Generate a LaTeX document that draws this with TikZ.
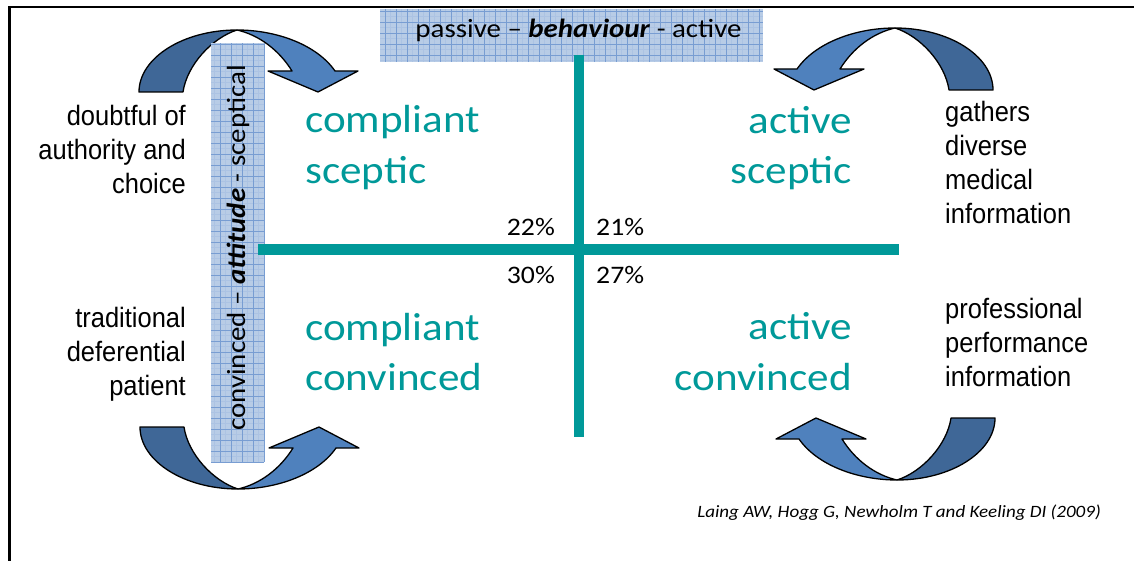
\documentclass[tikz,border=0pt]{standalone}
\usepackage{fontspec}
\newfontfamily\calib[FakeStretch=1.1]{Carlito}
\newfontfamily\arialn[FakeStretch=0.91]{Liberation Sans}
\definecolor{tealc}{RGB}{0,153,153}
\definecolor{lightband}{RGB}{79,129,189}
\definecolor{darkband}{RGB}{63,103,151}
\definecolor{gridfill}{RGB}{184,204,230}
\definecolor{gridline}{RGB}{120,157,210}
\definecolor{gridminor}{RGB}{172,195,227}
\tikzset{
  quad/.style={font=\calib\fontsize{39.2}{47}\selectfont, text=tealc, inner sep=0pt},
  side/.style={font=\arialn\fontsize{28}{34}\selectfont, inner sep=0pt},
  pct/.style={font=\calib\fontsize{25.2}{30}\selectfont, inner sep=0pt},
  axislabel/.style={font=\calib\fontsize{26.3}{31}\selectfont, inner sep=0pt},
  cite/.style={font=\calib\itshape\fontsize{17.3}{21}\selectfont, inner sep=0pt},
  axisline/.style={draw=tealc, line width=10pt},
  band/.style={draw=black, line width=1.3pt, line join=round},
  gridbox/.style={fill=gridfill},
  minorgrid/.style={draw=gridminor, line width=0.25pt, step=5.5pt},
  majorgrid/.style={draw=gridline, line width=0.55pt, step=11pt},
}
\newcommand\bentarrow{%
  \filldraw[band, fill=darkband] (-98,62) -- (-54,62)
     .. controls (-50,35) and (-25,8) .. (0,0)
     .. controls (-54,0) and (-98,28) .. (-98,62) -- cycle;
  \filldraw[band, fill=lightband] (0,0)
     .. controls (40,0) and (80,15) .. (98,41) -- (121,41) -- (81,62)
     -- (31,41) -- (55,41)
     .. controls (42,20) and (22,5) .. (0,0) -- cycle;
}
\begin{document}
\begin{tikzpicture}[x=1pt,y=-1pt]
\useasboundingbox (0,0) rectangle (1134,561);
% frame
\draw[line width=2.3pt] (9.5,561) -- (9.5,7) -- (1134,7);
% curved arrows
\begin{scope}[shift={(237,30)}]\bentarrow\end{scope}
\begin{scope}[shift={(895,28)},xscale=-1]\bentarrow\end{scope}
\begin{scope}[shift={(238,489)},yscale=-1]\bentarrow\end{scope}
\begin{scope}[shift={(897,480)},xscale=-1,yscale=-1]\bentarrow\end{scope}
% grid boxes
\fill[gridbox] (380,9) rectangle (763,62);
\draw[minorgrid] (380,62) grid (763,9);
\draw[majorgrid] (380,62) grid (763,9);
\fill[gridbox] (211,43) rectangle (264,462);
\draw[minorgrid] (211,462) grid (264,43);
\draw[majorgrid] (211,462) grid (264,43);
% axis labels
\node[axislabel, anchor=base] (beh) at (578.5,38) {passive – \textbf{\textit{behaviour}} - active};
\node[axislabel, anchor=base, rotate=90] (att) at (245,248) {convinced – \textbf{\textit{attitude}} - sceptical};
% axes
\coordinate (vt) at (579,55);
\coordinate (vb) at (579,437);
\coordinate (hl) at (258,249.5);
\coordinate (hr) at (899,249.5);
\draw[axisline] (vt) -- (vb);
\draw[axisline] (hl) -- (hr);
% quadrant labels
\node[quad, anchor=base west] (cs1) at (305,133) {compliant};
\node[quad, anchor=base west] (cs2) at (305,184) {sceptic};
\node[quad, anchor=base east] (as1) at (852,134) {active};
\node[quad, anchor=base east] (as2) at (852,184) {sceptic};
\node[quad, anchor=base west] (cc1) at (305,340) {compliant};
\node[quad, anchor=base west] (cc2) at (305,390) {convinced};
\node[quad, anchor=base east] (ac1) at (852,339) {active};
\node[quad, anchor=base east] (ac2) at (852,390) {convinced};
% percentages
\node[pct, anchor=base east] (p22) at (555,236) {22\%};
\node[pct, anchor=base west] (p21) at (596,236) {21\%};
\node[pct, anchor=base east] (p30) at (555,283) {30\%};
\node[pct, anchor=base west] (p27) at (596,283) {27\%};
% left texts
\node[side, anchor=base east] (l1) at (186,126) {doubtful of};
\node[side, anchor=base east] (l2) at (186,160) {authority and};
\node[side, anchor=base east] (l3) at (186,194) {choice};
\node[side, anchor=base east] (l4) at (186,327) {traditional};
\node[side, anchor=base east] (l5) at (186,361) {deferential};
\node[side, anchor=base east] (l6) at (186,395) {patient};
% right texts
\node[side, anchor=base west] (r1) at (945,122) {gathers};
\node[side, anchor=base west] (r2) at (945,156) {diverse};
\node[side, anchor=base west] (r3) at (945,190) {medical};
\node[side, anchor=base west] (r4) at (945,224) {information};
\node[side, anchor=base west] (r5) at (945,318) {professional};
\node[side, anchor=base west] (r6) at (945,352) {performance};
\node[side, anchor=base west] (r7) at (945,386) {information};
% citation
\node[cite, anchor=base east] (ref) at (1101,517) {Laing AW, Hogg G, Newholm T and Keeling DI (2009)};
\end{tikzpicture}
\end{document}
